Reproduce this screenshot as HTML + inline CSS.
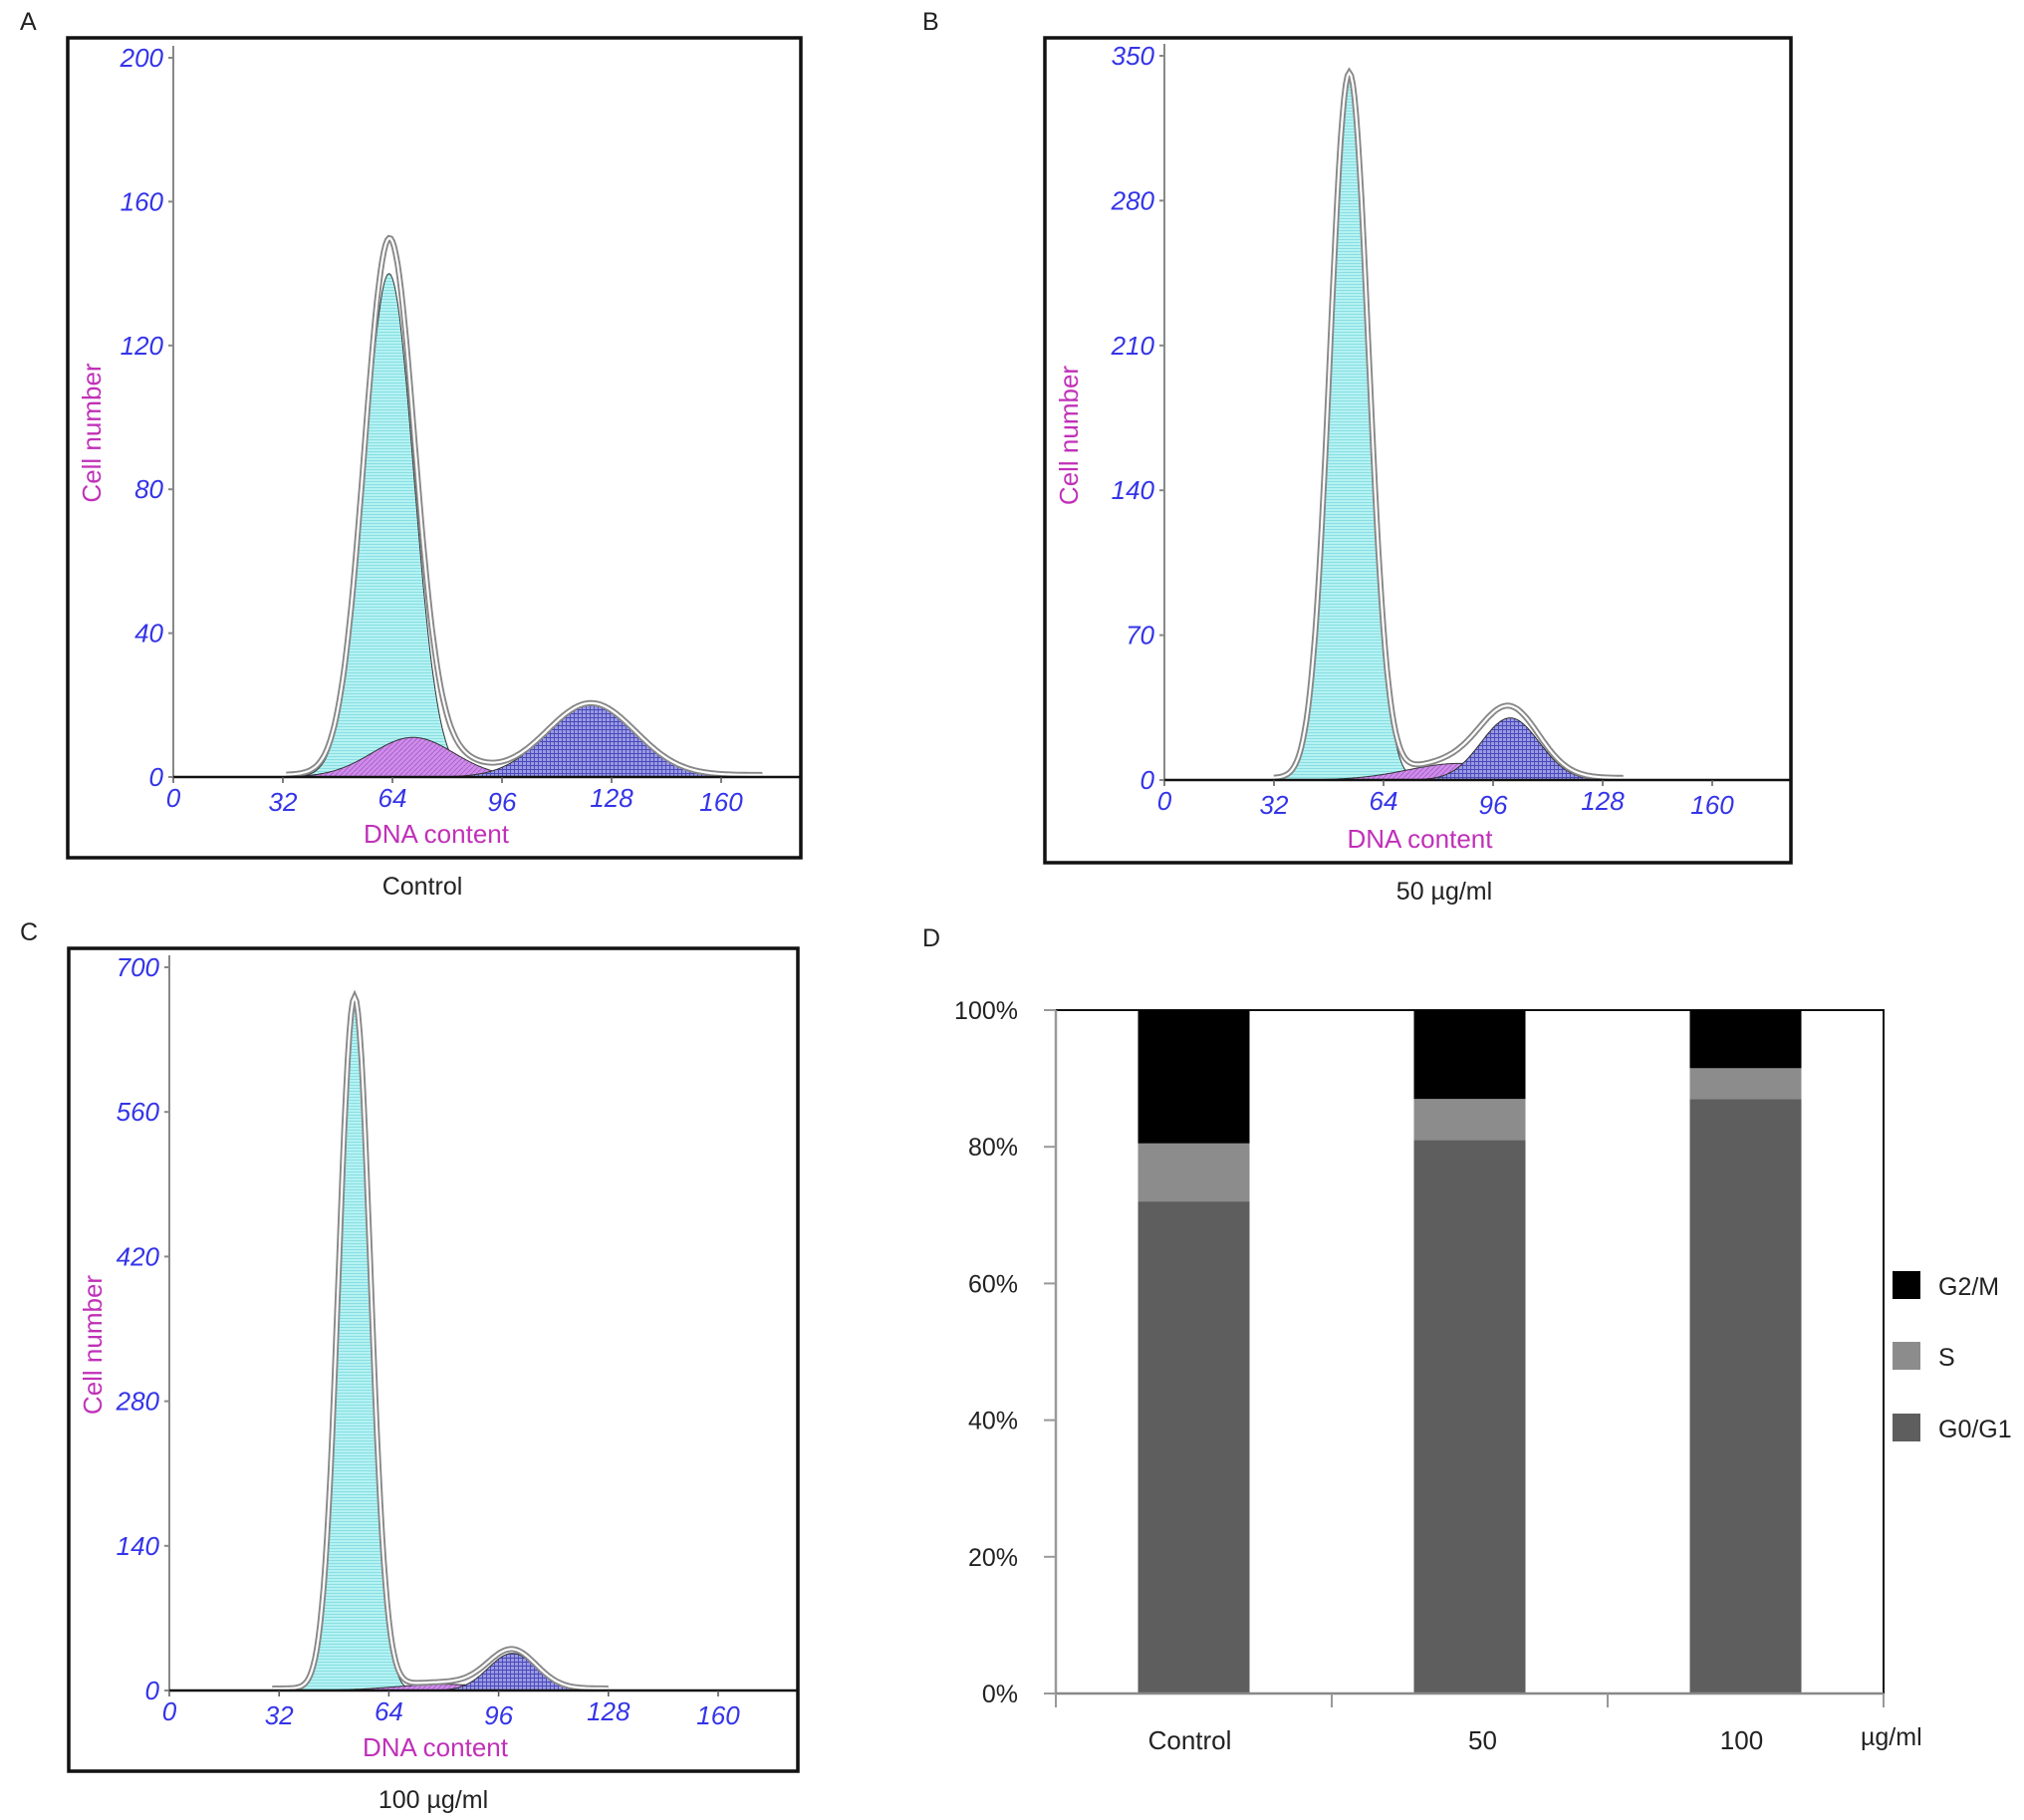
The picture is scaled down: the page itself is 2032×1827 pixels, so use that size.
<!DOCTYPE html>
<html><head><meta charset="utf-8"><style>
html,body{margin:0;padding:0;background:#fff;}
svg{display:block;}
</style></head><body>
<svg id="fig" width="2032" height="1827" viewBox="0 0 2032 1827" xmlns="http://www.w3.org/2000/svg">
<defs>
<pattern id="hlines" width="4" height="3" patternUnits="userSpaceOnUse"><rect width="4" height="3" fill="#b4f2f2"/><line x1="0" y1="0.5" x2="4" y2="0.5" stroke="#7fd9e0" stroke-width="0.8"/></pattern>
<pattern id="xhatch" width="4" height="4" patternUnits="userSpaceOnUse"><rect width="4" height="4" fill="#9a9ae4"/><path d="M0 0.5H4M0.5 0V4" stroke="#4848b8" stroke-width="0.9"/></pattern>
<pattern id="dhatch" width="5" height="5" patternUnits="userSpaceOnUse"><rect width="5" height="5" fill="#cf8ce8"/><path d="M0 5L5 0" stroke="#a35acc" stroke-width="0.8"/></pattern>
</defs>
</svg>
<script>
// ---- Histogram data (peak parameters) ----
const panelNames = ['A','B','C'];
const yMaxes = [200, 350, 700];
const yTickLabels = [[0,40,80,120,160,200],[0,70,140,210,280,350],[0,140,280,420,560,700]];
const xTickLabels = [0,32,64,96,128,160];
const g1Center = [63, 54, 54];
const g1Height = [140, 340, 668];
const g1Sigma  = [7.2, 5.6, 4.6];
const sCenter  = [70, 86, 80];
const sHeight  = [11, 8, 6];
const sSigma   = [12, 15, 14];
const g2Center = [122, 101, 100];
const g2Height = [20, 30, 36];
const g2Sigma  = [13, 8.5, 7];
const outlineStart = [33, 32, 30];
const outlineEnd = [172, 134, 128];
const captions = ['Control','50 \u00b5g/ml','100 \u00b5g/ml'];
// layout (pixels)
const frames = [[68,38,804,861],[1049,38,1798,866],[69,952,801,1778]];
const axisX0 = [174,1169,170];
const axisY0 = [780,783,1697];
const axisYTop = [58,56,971];
const xPer32 = [110,110,110.2];
const labelX = [20,926,20];
const captionX = [424,1450,435];

// ---- Bar chart data ----
const barCats = ['Control','50','100'];
const g0g1Vals = [72, 81, 87];
const sVals = [8.5, 6, 4.5];
const g2mVals = [19.5, 13, 8.5];
const pctTicks = [0,20,40,60,80,100];

const NS='http://www.w3.org/2000/svg';
const svg=document.getElementById('fig');
function mk(tag,attrs,parent,text){const e=document.createElementNS(NS,tag);for(const k in attrs)e.setAttribute(k,attrs[k]);if(text!==undefined)e.textContent=text;(parent||svg).appendChild(e);return e;}
const gauss=(x,c,h,s)=>h*Math.exp(-0.5*((x-c)/s)**2);

for(let p=0;p<3;p++){
  const g=mk('g',{});
  
  
  const [fx0,fy0,fx1,fy1]=frames[p];
  const X=v=>axisX0[p]+v/32*xPer32[p];
  const Y=v=>axisY0[p]-v/yMaxes[p]*(axisY0[p]-axisYTop[p]);
  const lbl=mk('text',{x:labelX[p],y:fy0-8,'font-family':'Liberation Sans, sans-serif','font-size':25,fill:'#222'},g,panelNames[p]);
  
  
  const fr=mk('rect',{x:fx0,y:fy0,width:fx1-fx0,height:fy1-fy0,fill:'none',stroke:'#111','stroke-width':3.5},g);
  
  
  const comp=(c,h,s,fill,name)=>{
    let d='M'+X(0)+' '+Y(0);
    for(let x=0;x<=178;x+=0.5){d+=' L'+X(x).toFixed(1)+' '+Y(gauss(x,c,h,s)).toFixed(1);}
    d+=' L'+X(178)+' '+Y(0)+'Z';
    const e=mk('path',{d:d,fill:fill,stroke:'#333','stroke-width':1},g);
    
    
  };
  comp(g1Center[p],g1Height[p],g1Sigma[p],'url(#hlines)','g0g1-peak');
  comp(sCenter[p],sHeight[p],sSigma[p],'url(#dhatch)','s-phase-area');
  comp(g2Center[p],g2Height[p],g2Sigma[p],'url(#xhatch)','g2m-peak');
  // total fit outline
  let d='';
  for(let x=outlineStart[p];x<=outlineEnd[p];x+=0.5){
    const t=gauss(x,g1Center[p],g1Height[p],g1Sigma[p])+gauss(x,sCenter[p],sHeight[p],sSigma[p])+gauss(x,g2Center[p],g2Height[p],g2Sigma[p]);
    d+=(d?' L':'M')+X(x).toFixed(1)+' '+Math.min(Y(t)-2,axisY0[p]-1).toFixed(1);
  }
  const o1=mk('path',{d:d,fill:'none',stroke:'#888','stroke-width':6},g);
  
  
  mk('path',{d:d,fill:'none',stroke:'#fff','stroke-width':2.2},g);
  // axes
  const ya=mk('line',{x1:axisX0[p],y1:axisYTop[p]-12,x2:axisX0[p],y2:axisY0[p],stroke:'#888','stroke-width':2},g);
  
  
  const xa=mk('line',{x1:axisX0[p],y1:axisY0[p],x2:fx1,y2:axisY0[p],stroke:'#111','stroke-width':2.5},g);
  
  
  yTickLabels[p].forEach(v=>{
    mk('line',{x1:axisX0[p]-5,y1:Y(v),x2:axisX0[p],y2:Y(v),stroke:'#888','stroke-width':2},g);
    const t=mk('text',{x:axisX0[p]-10,y:Y(v)+9,'text-anchor':'end','font-family':'Liberation Sans, sans-serif','font-style':'italic','font-size':26,fill:'#3434e8'},g,String(v));
    
    
  });
  xTickLabels.forEach((v,i)=>{
    mk('line',{x1:X(v),y1:axisY0[p],x2:X(v),y2:axisY0[p]+6,stroke:'#555','stroke-width':1.5},g);
    const t=mk('text',{x:X(v),y:axisY0[p]+(i%2?34:30),'text-anchor':'middle','font-family':'Liberation Sans, sans-serif','font-style':'italic','font-size':26,fill:'#3434e8'},g,String(v));
    
    
  });
  const yt=mk('text',{transform:'translate('+(fx0+33)+','+((fy0+fy1)/2-15)+') rotate(-90)','text-anchor':'middle','font-family':'Liberation Sans, sans-serif','font-size':26,fill:'#c030b8'},g,'Cell number');
  
  
  const xt=mk('text',{x:(fx0+fx1)/2+2,y:fy1-15,'text-anchor':'middle','font-family':'Liberation Sans, sans-serif','font-size':26,fill:'#c030b8'},g,'DNA content');
  
  
  const cp=mk('text',{x:captionX[p],y:fy1+37,'text-anchor':'middle','font-family':'Liberation Sans, sans-serif','font-size':25,fill:'#222'},g,captions[p]);
  
  
}

// ---- Panel D: stacked bars ----
(function(){
  const g=mk('g',{});
  
  
  const L=1060,T=1014,R=1891,B=1700;
  const slot=(R-L)/barCats.length, bw=112;
  const Y=v=>B-v/100*(B-T);
  const lbl=mk('text',{x:926,y:950,'font-family':'Liberation Sans, sans-serif','font-size':25,fill:'#222'},g,'D');
  
  
  const fr=mk('path',{d:`M${L} ${T}H${R}V${B}`,fill:'none',stroke:'#111','stroke-width':2},g);
  
  
  const labelOffsets=[-4,13,-4];
  barCats.forEach((c,i)=>{
    const cx=L+slot*(i+0.5), x=cx-bw/2;
    const segs=[[0,g0g1Vals[i],'#5e5e5e','bar-g0g1-'],[g0g1Vals[i],g0g1Vals[i]+sVals[i],'#8c8c8c','bar-s-'],[g0g1Vals[i]+sVals[i],g0g1Vals[i]+sVals[i]+g2mVals[i],'#000','bar-g2m-']];
    segs.forEach(s=>{
      const r=mk('rect',{x:x,y:Y(s[1]),width:bw,height:Y(s[0])-Y(s[1]),fill:s[2]},g);
      
      
    });
    const t=mk('text',{x:cx+labelOffsets[i],y:1756,'text-anchor':'middle','font-family':'Liberation Sans, sans-serif','font-size':26,fill:'#222'},g,c);
    
    
  });
  const ya=mk('line',{x1:L,y1:T,x2:L,y2:B,stroke:'#999','stroke-width':2.5},g);
  
  
  const xa=mk('line',{x1:L,y1:B,x2:R,y2:B,stroke:'#888','stroke-width':2.5},g);
  
  
  for(let i=0;i<=barCats.length;i++){mk('line',{x1:L+slot*i,y1:B,x2:L+slot*i,y2:B+14,stroke:'#999','stroke-width':2},g);}
  pctTicks.forEach(v=>{
    mk('line',{x1:L-12,y1:Y(v),x2:L,y2:Y(v),stroke:'#999','stroke-width':2},g);
    const t=mk('text',{x:1022,y:Y(v)+9,'text-anchor':'end','font-family':'Liberation Sans, sans-serif','font-size':25,fill:'#222'},g,v+'%');
    
    
  });
  const u=mk('text',{x:1868,y:1752,'font-family':'Liberation Sans, sans-serif','font-size':25,fill:'#222'},g,'\u00b5g/ml');
  
  
  const leg=[['G2/M','#000',1276],['S','#8c8c8c',1347],['G0/G1','#5e5e5e',1419]];
  leg.forEach(l=>{
    const r=mk('rect',{x:1900,y:l[2],width:28,height:28,fill:l[1]},g);
    
    
    const t=mk('text',{x:1946,y:l[2]+24,'font-family':'Liberation Sans, sans-serif','font-size':25,fill:'#222'},g,l[0]);
    
    
  });
})();
</script>
</body></html>
